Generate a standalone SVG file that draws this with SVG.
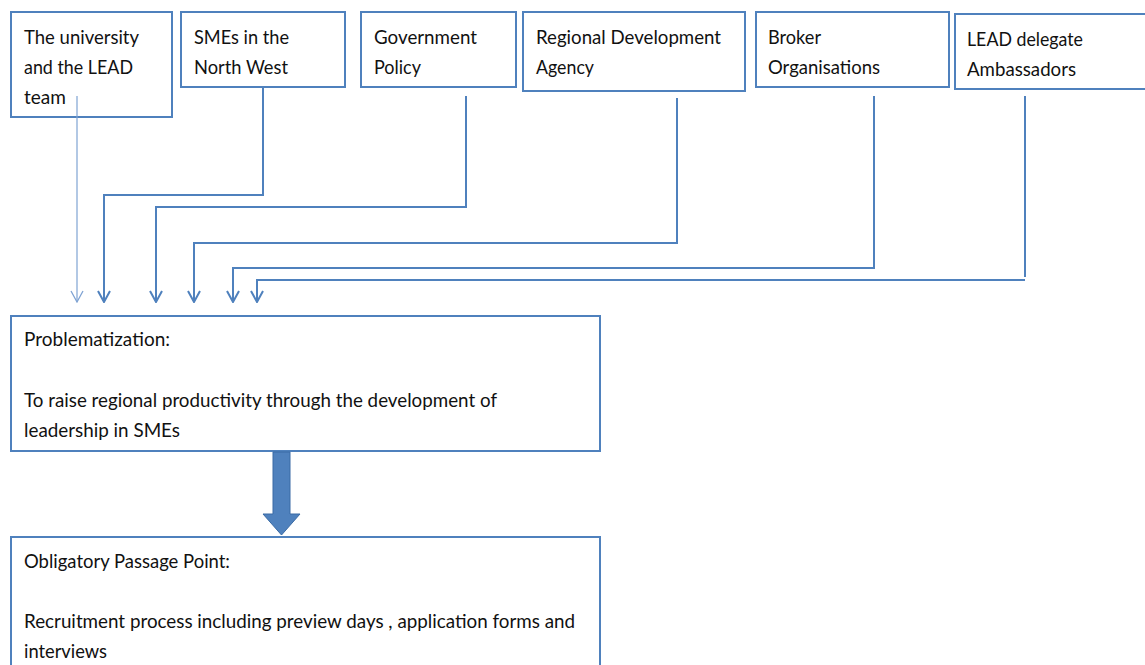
<svg xmlns="http://www.w3.org/2000/svg" width="1145" height="665" viewBox="0 0 1145 665">
<style>
.box{fill:#fff;stroke:#4F81BD;stroke-width:2}
.t{font-family:Lato,"Liberation Sans",sans-serif;font-size:19px;fill:#111}
.c{fill:none;stroke:#4F81BD;stroke-width:2}
.thin{fill:none;stroke:#7FA3D3;stroke-width:1.2}
</style>
<defs>
<marker id="v" markerUnits="userSpaceOnUse" viewBox="0 0 13 14" refX="12" refY="7" markerWidth="13" markerHeight="14" orient="auto">
<path d="M1,1 L12,7 L1,13" fill="none" stroke="#4F81BD" stroke-width="2"/>
</marker>
<marker id="vt" markerUnits="userSpaceOnUse" viewBox="0 0 13 14" refX="12" refY="7" markerWidth="13" markerHeight="14" orient="auto">
<path d="M1,1 L12,7 L1,13" fill="none" stroke="#7FA3D3" stroke-width="1.3"/>
</marker>
</defs>
<rect width="1145" height="665" fill="#fff"/>
<g id="n1"><rect class="box" x="11" y="12" width="161" height="105"/>
<text class="t" x="24" y="44" textLength="115" lengthAdjust="spacingAndGlyphs">The university</text>
<text class="t" x="24" y="74" textLength="109" lengthAdjust="spacingAndGlyphs">and the LEAD</text>
<text class="t" x="24" y="104" textLength="42" lengthAdjust="spacingAndGlyphs">team</text></g>
<g id="n2"><rect class="box" x="181" y="12" width="164" height="75"/>
<text class="t" x="194" y="44" textLength="95" lengthAdjust="spacingAndGlyphs">SMEs in the</text>
<text class="t" x="194" y="74" textLength="94" lengthAdjust="spacingAndGlyphs">North West</text></g>
<g id="n3"><rect class="box" x="361" y="12" width="155" height="75"/>
<text class="t" x="374" y="44" textLength="103" lengthAdjust="spacingAndGlyphs">Government</text>
<text class="t" x="374" y="74" textLength="47" lengthAdjust="spacingAndGlyphs">Policy</text></g>
<g id="n4"><rect class="box" x="523" y="12" width="222" height="79"/>
<text class="t" x="536" y="44" textLength="185" lengthAdjust="spacingAndGlyphs">Regional Development</text>
<text class="t" x="536" y="74" textLength="58" lengthAdjust="spacingAndGlyphs">Agency</text></g>
<g id="n5"><rect class="box" x="756" y="12" width="193" height="75"/>
<text class="t" x="768" y="44" textLength="53" lengthAdjust="spacingAndGlyphs">Broker</text>
<text class="t" x="768" y="74" textLength="112" lengthAdjust="spacingAndGlyphs">Organisations</text></g>
<g id="n6"><rect class="box" x="955" y="14" width="200" height="75"/>
<text class="t" x="967" y="46" textLength="116" lengthAdjust="spacingAndGlyphs">LEAD delegate</text>
<text class="t" x="967" y="76" textLength="109" lengthAdjust="spacingAndGlyphs">Ambassadors</text></g>
<g id="n7"><rect class="box" x="11" y="316" width="589" height="135"/>
<text class="t" x="24" y="346" textLength="146" lengthAdjust="spacingAndGlyphs">Problematization:</text>
<text class="t" x="24" y="407" textLength="473" lengthAdjust="spacingAndGlyphs">To raise regional productivity through the development of</text>
<text class="t" x="24" y="437" textLength="156" lengthAdjust="spacingAndGlyphs">leadership in SMEs</text></g>
<g id="n8"><rect class="box" x="11" y="537" width="589" height="140"/>
<text class="t" x="24" y="568" textLength="206" lengthAdjust="spacingAndGlyphs">Obligatory Passage Point:</text>
<text class="t" x="24" y="628" textLength="551" lengthAdjust="spacingAndGlyphs">Recruitment process including preview days , application forms and</text>
<text class="t" x="24" y="658" textLength="83" lengthAdjust="spacingAndGlyphs">interviews</text></g>
<g id="connectors">
<path class="thin" d="M77,96 V302" marker-end="url(#vt)"/>
<path class="c" d="M263,88 V195 H104 V302" marker-end="url(#v)"/>
<path class="c" d="M466,96 V207 H156 V302" marker-end="url(#v)"/>
<path class="c" d="M677,98 V243 H194 V302" marker-end="url(#v)"/>
<path class="c" d="M874,96 V268 H233 V302" marker-end="url(#v)"/>
<path class="c" d="M1025,96 V277"/>
<path class="c" d="M1025,280 H257 V302" marker-end="url(#v)"/>
<path id="bigarrow" d="M273,452 H290 V514 H300 L281.5,535 L263,514 H273 Z" fill="#4F81BD" stroke="#3A6BA5" stroke-width="1"/>
</g>
</svg>
